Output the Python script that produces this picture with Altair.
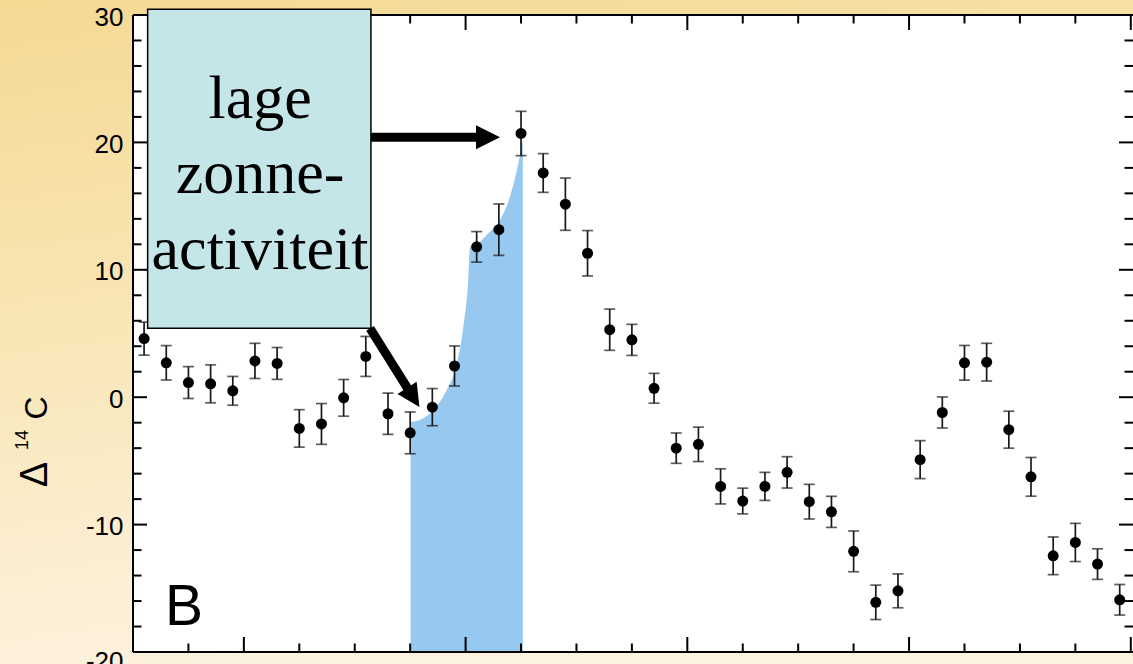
import altair as alt
import pandas as pd

# ---- data ----
years = [1355, 1365, 1375, 1385, 1395, 1405, 1415, 1425, 1435, 1445,
         1455, 1465, 1475, 1485, 1495, 1505, 1515, 1525, 1535, 1545,
         1555, 1565, 1575, 1585, 1595, 1605, 1615, 1625, 1635, 1645,
         1655, 1665, 1675, 1685, 1695, 1705, 1715, 1725, 1735, 1745,
         1755, 1765, 1775, 1785, 1795]
delta14c = [4.6, 2.7, 1.15, 1.05, 0.5, 2.85, 2.65, -2.45, -2.1, -0.05,
            3.2, -1.3, -2.8, -0.78, 2.45, 11.8, 13.15, 20.7, 17.6, 15.15,
            11.3, 5.3, 4.5, 0.7, -4.0, -3.7, -7.0, -8.15, -7.0, -5.9,
            -8.2, -9.0, -12.1, -16.1, -15.2, -4.9, -1.2, 2.7, 2.75, -2.55,
            -6.25, -12.45, -11.4, -13.1, -15.9]
errors = [1.3, 1.35, 1.25, 1.49, 1.13, 1.38, 1.25, 1.47, 1.6, 1.44,
          1.57, 1.62, 1.64, 1.46, 1.57, 1.2, 2.02, 1.74, 1.52, 2.05,
          1.78, 1.62, 1.22, 1.17, 1.19, 1.35, 1.38, 1.01, 1.1, 1.23,
          1.36, 1.22, 1.6, 1.35, 1.33, 1.49, 1.22, 1.36, 1.48, 1.45,
          1.52, 1.48, 1.5, 1.2, 1.2]

# shaded "low solar activity" region outline
shade_years = [1475.2, 1479.4, 1485.4, 1491.5, 1495.7, 1499.0, 1501.2, 1502.0,
               1505.7, 1509.5, 1515.5, 1520.0, 1523.8, 1525.8]
shade_vals = [-1.95, -1.79, -1.0, 0.57, 2.39, 5.53, 9.2, 11.81,
              12.08, 12.73, 13.9, 15.74, 18.36, 20.2]

y_major = [-20, -10, 0, 10, 20, 30]
y_minor = [-18, -16, -14, -12, -8, -6, -4, -2, 2, 4, 6, 8, 12, 14, 16, 18,
           22, 24, 26, 28]
x_major = [1400, 1500, 1600, 1700, 1800]
x_minor = [1375, 1425, 1450, 1475, 1525, 1550, 1575, 1625, 1650, 1675,
           1725, 1750, 1775]

box_lines = ["lage", "zonne-", "activiteit"]
box_line_y = [21.89, 16.0, 10.06]

X_DOM = [1350, 1801]
Y_DOM = [-20, 30]
W, H = 1000, 637

xs = alt.Scale(domain=X_DOM, nice=False, zero=False)
ys = alt.Scale(domain=Y_DOM, nice=False, zero=False)

df = pd.DataFrame({"yr": years, "v": delta14c, "e": errors})
df["lo"] = df["v"] - df["e"]
df["hi"] = df["v"] + df["e"]

one = pd.DataFrame({"k": [0]})

# background gradient over whole canvas
bg = alt.Chart(one).mark_rect(
    fill=alt.Gradient(
        gradient="linear",
        stops=[alt.GradientStop(color="#F5D993", offset=0),
               alt.GradientStop(color="#F9E7B8", offset=0.5),
               alt.GradientStop(color="#FDF2E0", offset=1)],
        x1=0, x2=0.25, y1=0, y2=1),
    strokeWidth=0,
).encode(x=alt.value(-133), x2=alt.value(W), y=alt.value(-15), y2=alt.value(H + 12))

plot_bg = alt.Chart(one).mark_rect(color="white").encode(
    x=alt.X("a:Q", scale=xs, axis=None), x2="b:Q",
    y=alt.Y("c:Q", scale=ys), y2="d:Q"
).transform_calculate(a=str(X_DOM[0]), b=str(X_DOM[1]), c=str(Y_DOM[0]), d=str(Y_DOM[1]))

shade_df = pd.DataFrame({"ayr": shade_years, "av": shade_vals})
shade = alt.Chart(shade_df).mark_area(color="#97C8F0", interpolate="monotone").encode(
    x=alt.X("ayr:Q", scale=xs, axis=None),
    y=alt.Y("av:Q", scale=ys),
    y2=alt.datum(-20),
)

yaxis = alt.Axis(values=y_major, labelFont="Liberation Sans", labelFontSize=26,
                 labelColor="black", labelPadding=10, ticks=False, domain=False,
                 grid=False, title=None, zindex=1,
                 labelExpr="datum.value < 0 ? '-' + abs(datum.value) : '' + datum.value",
                 labelOffset={"condition": {"test": "datum.value == -20", "value": 9},
                              "value": 2})

err_rule = alt.Chart(df).mark_rule(color="#1a1a1a", strokeWidth=1.7).encode(
    x=alt.X("yr:Q", scale=xs, axis=None),
    y=alt.Y("lo:Q", scale=ys, axis=yaxis),
    y2="hi:Q",
)
cap_lo = alt.Chart(df).mark_tick(orient="horizontal", size=11, thickness=1.7,
                                 color="#1a1a1a").encode(
    x=alt.X("yr:Q", scale=xs), y=alt.Y("lo:Q", scale=ys))
cap_hi = alt.Chart(df).mark_tick(orient="horizontal", size=11, thickness=1.7,
                                 color="#1a1a1a").encode(
    x=alt.X("yr:Q", scale=xs), y=alt.Y("hi:Q", scale=ys))
pts = alt.Chart(df).mark_point(filled=True, color="black", size=121, opacity=1,
                               shape="circle").encode(
    x=alt.X("yr:Q", scale=xs), y=alt.Y("v:Q", scale=ys))

# frame (left, top, bottom)
frame_df = pd.DataFrame({
    "x1": [X_DOM[0], X_DOM[0], X_DOM[0]],
    "x2": [X_DOM[0], X_DOM[1], X_DOM[1]],
    "y1": [Y_DOM[0], Y_DOM[1], Y_DOM[0]],
    "y2": [Y_DOM[1], Y_DOM[1], Y_DOM[0]],
})
frame = alt.Chart(frame_df).mark_rule(color="black", strokeWidth=2).encode(
    x=alt.X("x1:Q", scale=xs), x2="x2:Q", y=alt.Y("y1:Q", scale=ys), y2="y2:Q")

ymaj = pd.DataFrame({"t": y_major})
ymin = pd.DataFrame({"t": y_minor})
xmaj = pd.DataFrame({"t": x_major})
xmin = pd.DataFrame({"t": x_minor})

def yticks(d, L):
    left = alt.Chart(d).mark_rule(color="black", strokeWidth=2).encode(
        y=alt.Y("t:Q", scale=ys), x=alt.value(0), x2=alt.value(L))
    right = alt.Chart(d).mark_rule(color="black", strokeWidth=2).encode(
        y=alt.Y("t:Q", scale=ys), x=alt.value(W - L), x2=alt.value(W))
    return left + right

def xticks(d, L):
    top = alt.Chart(d).mark_rule(color="black", strokeWidth=2).encode(
        x=alt.X("t:Q", scale=xs), y=alt.value(0), y2=alt.value(L))
    bot = alt.Chart(d).mark_rule(color="black", strokeWidth=2).encode(
        x=alt.X("t:Q", scale=xs), y=alt.value(H - L), y2=alt.value(H))
    return top + bot

ticks = yticks(ymaj, 14) + yticks(ymin, 8.5) + xticks(xmaj, 15) + xticks(xmin, 8.5)

# arrows
shaft_df = pd.DataFrame({"x1": [1457.3, 1456.9], "x2": [1510.1, 1476.4],
                         "y1": [20.41, 5.41], "y2": [20.41, -0.02]})
shafts = alt.Chart(shaft_df).mark_rule(color="black", strokeWidth=9,
                                       strokeCap="butt").encode(
    x=alt.X("x1:Q", scale=xs), x2="x2:Q", y=alt.Y("y1:Q", scale=ys), y2="y2:Q")
head_df = pd.DataFrame({"hx": [1510.1, 1476.4], "hy": [20.41, -0.02],
                        "ang": [0, 57], "sz": [576, 520]})
heads = alt.Chart(head_df).mark_point(shape="M-1,-1L1,0L-1,1Z", filled=True,
                                      color="black", opacity=1, strokeWidth=0).encode(
    x=alt.X("hx:Q", scale=xs), y=alt.Y("hy:Q", scale=ys),
    angle=alt.Angle("ang:Q", scale=None), size=alt.Size("sz:Q", scale=None))

# annotation box
box_df = pd.DataFrame({"x1": [1356.6], "x2": [1457.3], "y1": [30.45], "y2": [5.41]})
box = alt.Chart(box_df).mark_rect(fill="#C5E6E8", stroke="black", strokeWidth=1.5).encode(
    x=alt.X("x1:Q", scale=xs), x2="x2:Q", y=alt.Y("y1:Q", scale=ys), y2="y2:Q")
box_text_df = pd.DataFrame({"t": box_lines, "ty": box_line_y, "tx": [1407.3] * 3})
box_text = alt.Chart(box_text_df).mark_text(font="Liberation Serif", fontSize=62,
                                            color="black", align="center",
                                            baseline="alphabetic").encode(
    x=alt.X("tx:Q", scale=xs), y=alt.Y("ty:Q", scale=ys), text="t:N")

# panel letter
b_df = pd.DataFrame({"t": ["B"], "tx": [1364.4], "ty": [-17.88]})
b_text = alt.Chart(b_df).mark_text(font="Liberation Sans", fontSize=57, color="black",
                                   align="left", baseline="alphabetic").encode(
    x=alt.X("tx:Q", scale=xs), y=alt.Y("ty:Q", scale=ys), text="t:N")

# y-axis title  Δ ^14 C
t_delta = alt.Chart(one).mark_text(text="Δ", font="Liberation Sans", fontSize=38,
                                   angle=270, align="center", baseline="alphabetic",
                                   color="black").encode(
    x=alt.value(-86.3), y=alt.value(459.5))
t_14 = alt.Chart(one).mark_text(text="14", font="Liberation Sans", fontSize=18,
                                angle=270, align="center", baseline="alphabetic",
                                color="black").encode(
    x=alt.value(-105), y=alt.value(425))
t_c = alt.Chart(one).mark_text(text="C", font="Liberation Sans", fontSize=32,
                               angle=270, align="center", baseline="alphabetic",
                               color="black").encode(
    x=alt.value(-86.0), y=alt.value(393))

chart = alt.layer(
    bg, plot_bg, shade, err_rule, cap_lo, cap_hi, pts, frame, ticks,
    shafts, heads, box, box_text, b_text, t_delta, t_14, t_c
).properties(
    width=W, height=H,
    autosize=alt.AutoSizeParams(type="none"),
    padding={"left": 133, "top": 15, "right": 0, "bottom": 12},
).configure_view(stroke=None).configure(background="#FDF2E0")

chart.save("out.html", embed_options={"renderer": "svg", "actions": False})
